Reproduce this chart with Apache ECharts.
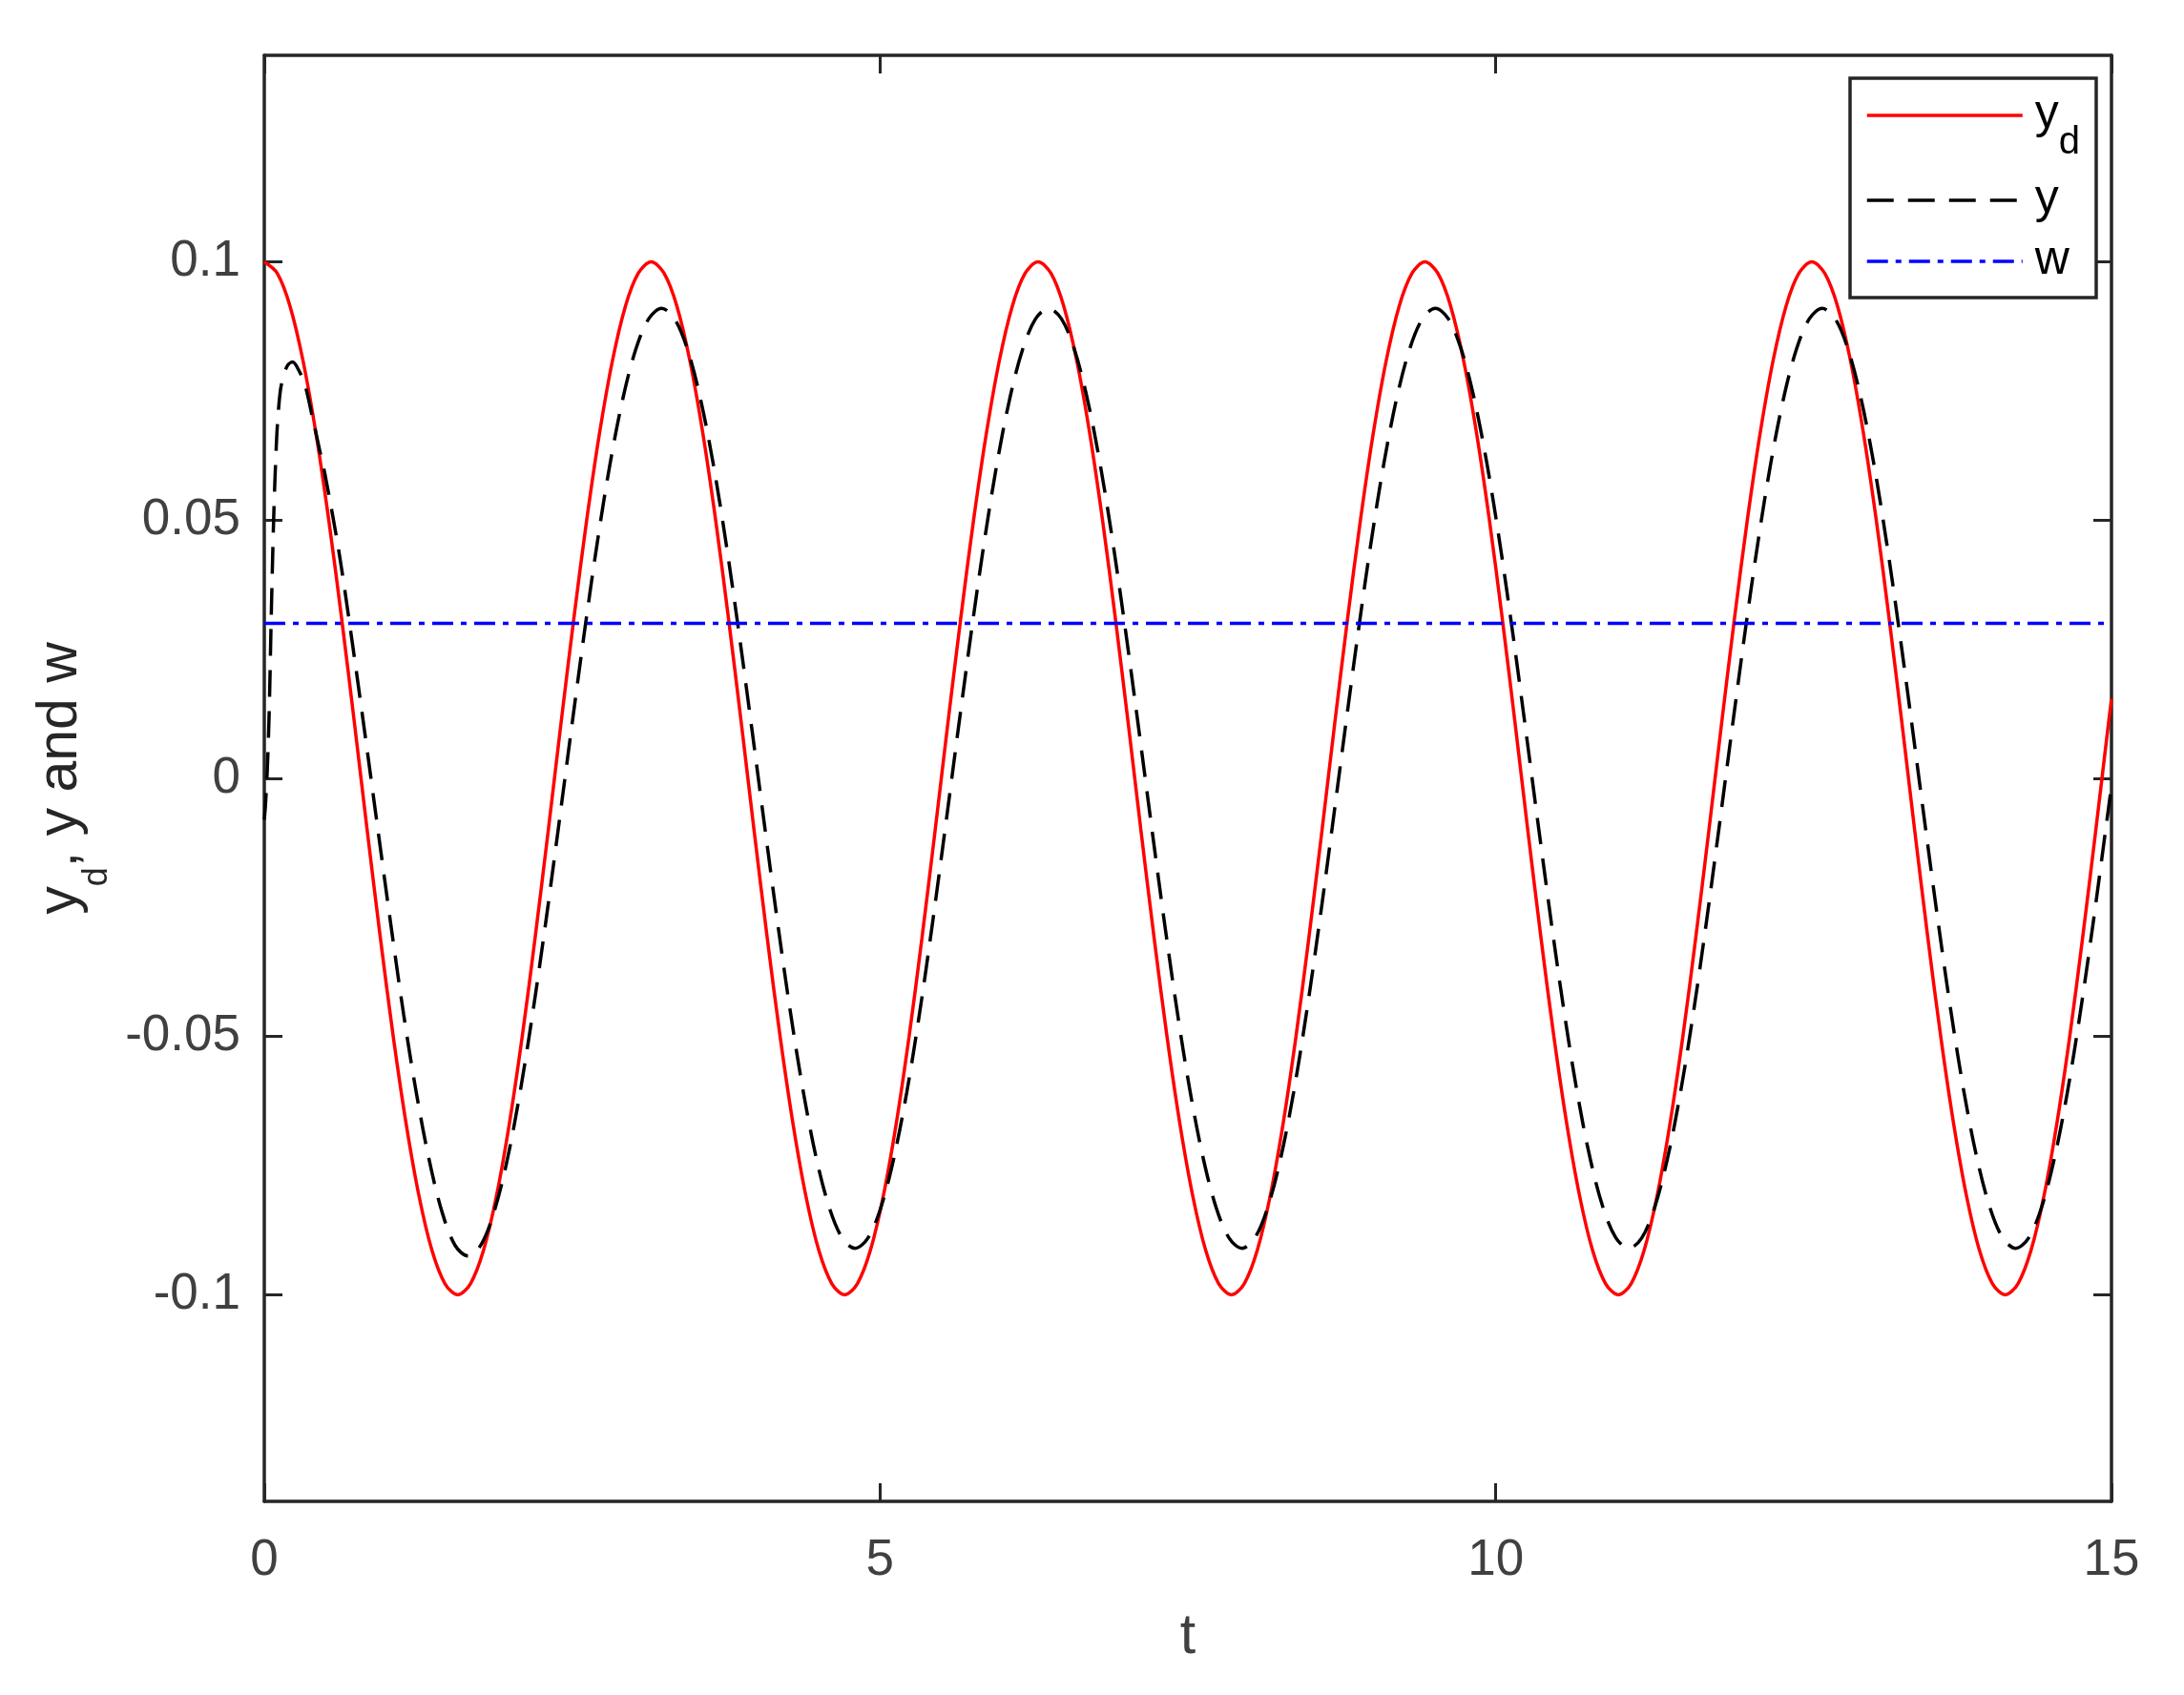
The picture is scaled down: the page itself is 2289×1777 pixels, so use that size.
<!DOCTYPE html>
<html>
<head>
<meta charset="utf-8">
<title>yd, y and w</title>
<script src="https://cdn.jsdelivr.net/npm/echarts@6/dist/echarts.min.js"></script>
<style>
html, body { margin: 0; padding: 0; background: #fff; }
#chart { width: 2289px; height: 1777px; }
</style>
</head>
<body>
<div id="chart"></div>
<script>
// sample times of yd (peaks and troughs fall on samples)
var ydTimes = [
  0, 0.1047, 0.2094, 0.3142, 0.4189, 0.5236, 0.6283, 0.733, 0.8378, 0.9425,
  1.0472, 1.1519, 1.2566, 1.3614, 1.4661, 1.5708, 1.6755, 1.7802, 1.885, 1.9897,
  2.0944, 2.1991, 2.3038, 2.4086, 2.5133, 2.618, 2.7227, 2.8274, 2.9322, 3.0369,
  3.1416, 3.2463, 3.351, 3.4558, 3.5605, 3.6652, 3.7699, 3.8746, 3.9794, 4.0841,
  4.1888, 4.2935, 4.3982, 4.5029, 4.6077, 4.7124, 4.8171, 4.9218, 5.0265, 5.1313,
  5.236, 5.3407, 5.4454, 5.5501, 5.6549, 5.7596, 5.8643, 5.969, 6.0737, 6.1785,
  6.2832, 6.3879, 6.4926, 6.5973, 6.7021, 6.8068, 6.9115, 7.0162, 7.1209, 7.2257,
  7.3304, 7.4351, 7.5398, 7.6445, 7.7493, 7.854, 7.9587, 8.0634, 8.1681, 8.2729,
  8.3776, 8.4823, 8.587, 8.6917, 8.7965, 8.9012, 9.0059, 9.1106, 9.2153, 9.3201,
  9.4248, 9.5295, 9.6342, 9.7389, 9.8437, 9.9484, 10.0531, 10.1578, 10.2625, 10.3673,
  10.472, 10.5767, 10.6814, 10.7861, 10.8909, 10.9956, 11.1003, 11.205, 11.3097, 11.4145,
  11.5192, 11.6239, 11.7286, 11.8333, 11.9381, 12.0428, 12.1475, 12.2522, 12.3569, 12.4617,
  12.5664, 12.6711, 12.7758, 12.8805, 12.9852, 13.09, 13.1947, 13.2994, 13.4041, 13.5088,
  13.6136, 13.7183, 13.823, 13.9277, 14.0324, 14.1372, 14.2419, 14.3466, 14.4513, 14.556,
  14.6608, 14.7655, 14.8702, 14.9749, 15
];
// yd (red, solid)
var ydValues = [
  0.1, 0.0978, 0.0914, 0.0809, 0.0669, 0.05, 0.0309, 0.0105, -0.0105, -0.0309,
  -0.05, -0.0669, -0.0809, -0.0914, -0.0978, -0.1, -0.0978, -0.0914, -0.0809, -0.0669,
  -0.05, -0.0309, -0.0105, 0.0105, 0.0309, 0.05, 0.0669, 0.0809, 0.0914, 0.0978,
  0.1, 0.0978, 0.0914, 0.0809, 0.0669, 0.05, 0.0309, 0.0105, -0.0105, -0.0309,
  -0.05, -0.0669, -0.0809, -0.0914, -0.0978, -0.1, -0.0978, -0.0914, -0.0809, -0.0669,
  -0.05, -0.0309, -0.0105, 0.0105, 0.0309, 0.05, 0.0669, 0.0809, 0.0914, 0.0978,
  0.1, 0.0978, 0.0914, 0.0809, 0.0669, 0.05, 0.0309, 0.0105, -0.0105, -0.0309,
  -0.05, -0.0669, -0.0809, -0.0914, -0.0978, -0.1, -0.0978, -0.0914, -0.0809, -0.0669,
  -0.05, -0.0309, -0.0105, 0.0105, 0.0309, 0.05, 0.0669, 0.0809, 0.0914, 0.0978,
  0.1, 0.0978, 0.0914, 0.0809, 0.0669, 0.05, 0.0309, 0.0105, -0.0105, -0.0309,
  -0.05, -0.0669, -0.0809, -0.0914, -0.0978, -0.1, -0.0978, -0.0914, -0.0809, -0.0669,
  -0.05, -0.0309, -0.0105, 0.0105, 0.0309, 0.05, 0.0669, 0.0809, 0.0914, 0.0978,
  0.1, 0.0978, 0.0914, 0.0809, 0.0669, 0.05, 0.0309, 0.0105, -0.0105, -0.0309,
  -0.05, -0.0669, -0.0809, -0.0914, -0.0978, -0.1, -0.0978, -0.0914, -0.0809, -0.0669,
  -0.05, -0.0309, -0.0105, 0.0105, 0.0154
];
// y (black, dashed): start-up part, then the steady part lagging yd
var yTimes = [
  0, 0.01, 0.025, 0.04, 0.057, 0.077, 0.095, 0.108, 0.13, 0.155,
  0.19, 0.23, 0.28, 0.33, 0.39, 0.45, 0.5,
  0.6086, 0.7133, 0.818, 0.9228, 1.0275,
  1.1322, 1.2369, 1.3416, 1.4464, 1.5511, 1.6558, 1.7605, 1.8652, 1.97, 2.0747,
  2.1794, 2.2841, 2.3888, 2.4936, 2.5983, 2.703, 2.8077, 2.9124, 3.0172, 3.1219,
  3.2266, 3.3313, 3.436, 3.5408, 3.6455, 3.7502, 3.8549, 3.9596, 4.0644, 4.1691,
  4.2738, 4.3785, 4.4832, 4.5879, 4.6927, 4.7974, 4.9021, 5.0068, 5.1115, 5.2163,
  5.321, 5.4257, 5.5304, 5.6351, 5.7399, 5.8446, 5.9493, 6.054, 6.1587, 6.2635,
  6.3682, 6.4729, 6.5776, 6.6823, 6.7871, 6.8918, 6.9965, 7.1012, 7.2059, 7.3107,
  7.4154, 7.5201, 7.6248, 7.7295, 7.8343, 7.939, 8.0437, 8.1484, 8.2531, 8.3579,
  8.4626, 8.5673, 8.672, 8.7767, 8.8815, 8.9862, 9.0909, 9.1956, 9.3003, 9.4051,
  9.5098, 9.6145, 9.7192, 9.8239, 9.9287, 10.0334, 10.1381, 10.2428, 10.3475, 10.4523,
  10.557, 10.6617, 10.7664, 10.8711, 10.9759, 11.0806, 11.1853, 11.29, 11.3947, 11.4995,
  11.6042, 11.7089, 11.8136, 11.9183, 12.0231, 12.1278, 12.2325, 12.3372, 12.4419, 12.5467,
  12.6514, 12.7561, 12.8608, 12.9655, 13.0702, 13.175, 13.2797, 13.3844, 13.4891, 13.5938,
  13.6986, 13.8033, 13.908, 14.0127, 14.1174, 14.2222, 14.3269, 14.4316, 14.5363, 14.641,
  14.7458, 14.8505, 14.9552, 15
];
var yValues = [
  -0.008, -0.005, 0.002, 0.013, 0.032, 0.051, 0.063, 0.069, 0.075, 0.0778,
  0.08, 0.0806, 0.079, 0.0762, 0.07, 0.0635, 0.058,
  0.0435, 0.0265, 0.0085, -0.01, -0.0283,
  -0.0458, -0.0612, -0.0742, -0.0842, -0.0905, -0.0925, -0.0903, -0.084, -0.0742, -0.0611,
  -0.0455, -0.0281, -0.0095, 0.0095, 0.0281, 0.0455, 0.0609, 0.0736, 0.0831, 0.089,
  0.091, 0.089, 0.0831, 0.0736, 0.0609, 0.0455, 0.0281, 0.0095, -0.0095, -0.0281,
  -0.0455, -0.0609, -0.0736, -0.0831, -0.089, -0.091, -0.089, -0.0831, -0.0736, -0.0609,
  -0.0455, -0.0281, -0.0095, 0.0095, 0.0281, 0.0455, 0.0609, 0.0736, 0.0831, 0.089,
  0.091, 0.089, 0.0831, 0.0736, 0.0609, 0.0455, 0.0281, 0.0095, -0.0095, -0.0281,
  -0.0455, -0.0609, -0.0736, -0.0831, -0.089, -0.091, -0.089, -0.0831, -0.0736, -0.0609,
  -0.0455, -0.0281, -0.0095, 0.0095, 0.0281, 0.0455, 0.0609, 0.0736, 0.0831, 0.089,
  0.091, 0.089, 0.0831, 0.0736, 0.0609, 0.0455, 0.0281, 0.0095, -0.0095, -0.0281,
  -0.0455, -0.0609, -0.0736, -0.0831, -0.089, -0.091, -0.089, -0.0831, -0.0736, -0.0609,
  -0.0455, -0.0281, -0.0095, 0.0095, 0.0281, 0.0455, 0.0609, 0.0736, 0.0831, 0.089,
  0.091, 0.089, 0.0831, 0.0736, 0.0609, 0.0455, 0.0281, 0.0095, -0.0095, -0.0281,
  -0.0455, -0.0609, -0.0736, -0.0831, -0.089, -0.091, -0.089, -0.0831, -0.0736, -0.0609,
  -0.0455, -0.0281, -0.0095, -0.0014
];
// w (blue, dash-dot)
var wTimes = [0, 15];
var wValues = [0.03, 0.03];
// axis ticks
var yTicks = [-0.1, -0.05, 0, 0.05, 0.1];

var FONT = '"Liberation Sans", Arial, Helvetica, sans-serif';
var AXIS_COLOR = '#262626';
var LABEL_COLOR = '#404040';

function pairs(xs, ys) {
  return xs.map(function (x, i) { return [x, ys[i]]; });
}

// 共用的坐标轴样式（MATLAB 风格的封闭框，刻度朝内）
function axisCommon(extra) {
  var base = {
    type: 'value',
    axisLine: { show: true, onZero: false, lineStyle: { color: AXIS_COLOR, width: 3.5 } },
    axisTick: { show: true, inside: true, length: 19, lineStyle: { color: AXIS_COLOR, width: 3 } },
    splitLine: { show: false }
  };
  for (var k in extra) base[k] = extra[k];
  return base;
}

var chart = echarts.init(document.getElementById('chart'), null, { renderer: 'canvas' });

var option = {
  animation: false,
  backgroundColor: '#fff',
  grid: { left: 277, right: 76, top: 58, bottom: 203, containLabel: false },
  legend: {
    orient: 'vertical',
    left: 1939,
    top: 82,
    padding: [13, 17, 14, 16],
    backgroundColor: '#fff',
    borderColor: AXIS_COLOR,
    borderWidth: 3.5,
    itemWidth: 163,
    itemHeight: 2,
    itemGap: 14,
    selectedMode: false,
    itemStyle: { opacity: 0 },
    lineStyle: { width: 3.5 },
    data: ['yd', 'y', 'w'],
    formatter: function (name) {
      return name === 'yd' ? '{m|y}{s|d}' : '{m|' + name + '}';
    },
    textStyle: {
      rich: {
        m: { fontSize: 50, lineHeight: 52, padding: [0, 0, 0, 8], verticalAlign: 'top', color: '#000', fontFamily: FONT },
        s: { fontSize: 40, lineHeight: 40, padding: [35, 0, 0, 0], verticalAlign: 'top', color: '#000', fontFamily: FONT }
      }
    }
  },
  xAxis: [
    axisCommon({
      position: 'bottom', min: 0, max: 15, interval: 5,
      axisLabel: { fontSize: 53, color: LABEL_COLOR, margin: 36, fontFamily: FONT, showMinLabel: true, showMaxLabel: true },
      name: 't', nameLocation: 'middle', nameGap: 113,
      nameTextStyle: { fontSize: 59, color: LABEL_COLOR, fontFamily: FONT }
    }),
    axisCommon({
      position: 'top', min: 0, max: 15, interval: 5,
      axisLabel: { show: false }
    })
  ],
  yAxis: [
    axisCommon({
      position: 'left', min: -0.14, max: 0.14,
      axisTick: { show: true, inside: true, length: 19, customValues: yTicks, lineStyle: { color: AXIS_COLOR, width: 3 } },
      axisLabel: { customValues: yTicks, fontSize: 53, color: LABEL_COLOR, margin: 25, fontFamily: FONT },
      name: '{m|y}{s|d}{m|, y and w}', nameLocation: 'middle', nameGap: 170,
      nameTextStyle: {
        rich: {
          m: { fontSize: 59, lineHeight: 60, verticalAlign: 'top', color: AXIS_COLOR, fontFamily: FONT },
          s: { fontSize: 36, lineHeight: 36, padding: [50, 0, 0, 0], verticalAlign: 'top', color: AXIS_COLOR, fontFamily: FONT }
        }
      }
    }),
    axisCommon({
      position: 'right', min: -0.14, max: 0.14,
      axisTick: { show: true, inside: true, length: 19, customValues: yTicks, lineStyle: { color: AXIS_COLOR, width: 3 } },
      axisLabel: { show: false }
    })
  ],
  series: [
    {
      name: 'yd', type: 'line', xAxisIndex: 0, yAxisIndex: 0,
      data: pairs(ydTimes, ydValues),
      symbol: 'none', smooth: 0.33,
      itemStyle: { color: '#ff0000' },
      lineStyle: { color: '#ff0000', width: 3.5 }
    },
    {
      name: 'y', type: 'line', xAxisIndex: 0, yAxisIndex: 0,
      data: pairs(yTimes, yValues),
      symbol: 'none', smooth: 0.33,
      itemStyle: { color: '#000000' },
      lineStyle: { color: '#000000', width: 3.5, type: [28, 15] }
    },
    {
      name: 'w', type: 'line', xAxisIndex: 0, yAxisIndex: 0,
      data: pairs(wTimes, wValues),
      symbol: 'none',
      itemStyle: { color: '#0000ff' },
      lineStyle: { color: '#0000ff', width: 3.5, type: [22, 8, 6, 8] }
    }
  ]
};

chart.setOption(option);
</script>
</body>
</html>
